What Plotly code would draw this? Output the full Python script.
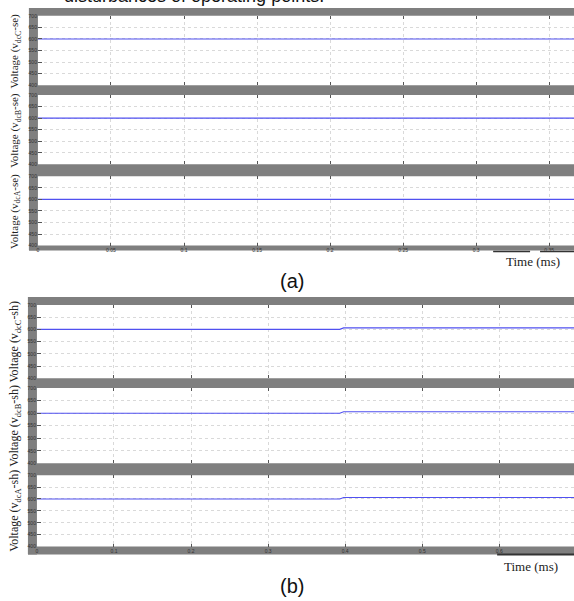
import plotly.graph_objects as go

W, H = 574, 601

# ---- data -----------------------------------------------------------------
# (a) series-side DC link voltages, time in ms
time_se = [0.0, 0.367]
v_dcC_se = [600, 600]
v_dcB_se = [600, 600]
v_dcA_se = [600, 600]

# (b) shunt-side DC link voltages with the small step near t = 0.4
time_sh = [0.0, 0.393, 0.398, 0.697]
v_dcC_sh = [600, 600, 606, 606]
v_dcB_sh = [600, 600, 606, 606]
v_dcA_sh = [600, 600, 606, 606]

y_ticks = [400, 450, 500, 550, 600, 650, 700]
x_ticks_se = [0, 0.05, 0.1, 0.15, 0.2, 0.25, 0.3, 0.35]
x_ticks_sh = [0, 0.1, 0.2, 0.3, 0.4, 0.5, 0.6]

titles_se = ["Voltage (v<sub>dcC</sub>-se)", "Voltage (v<sub>dcB</sub>-se)",
             "Voltage (v<sub>dcA</sub>-se)"]
titles_sh = ["Voltage (v<sub>dcC</sub>-sh)", "Voltage (v<sub>dcB</sub>-sh)",
             "Voltage (v<sub>dcA</sub>-sh)"]

# ---- pixel helpers ----------------------------------------------------------
def px(x):
    return x / W


def py(y):
    return 1 - y / H


GRAY = "#7f7f7f"
LINE = "rgb(80,80,240)"
SERIF = "Liberation Serif, Times New Roman, serif"
SANS = "Liberation Sans, Arial, sans-serif"

# plot boxes (left, right, top, bottom) in pixels
boxes_se = [(37, 574, 13, 83), (37, 574, 93, 163), (37, 574, 175, 245)]
boxes_sh = [(36, 574, 305, 379), (36, 574, 389, 465), (36, 574, 477, 549)]

fig = go.Figure()

panels = [
    (boxes_se, time_se, [v_dcC_se, v_dcB_se, v_dcA_se], x_ticks_se, [0, 0.367], titles_se, 11),
    (boxes_sh, time_sh, [v_dcC_sh, v_dcB_sh, v_dcA_sh], x_ticks_sh, [0, 0.697], titles_sh, 12),
]

layout_axes = {}
annotations = []
idx = 0
for boxes, t, series, xt, xr, titles, tsize in panels:
    for k, ((l, r, tp, bt), vals, ttl) in enumerate(zip(boxes, series, titles)):
        idx += 1
        sfx = "" if idx == 1 else str(idx)
        fig.add_trace(go.Scatter(
            x=t, y=vals, mode="lines",
            line=dict(color=LINE, width=1.1),
            xaxis="x" + sfx, yaxis="y" + sfx, showlegend=False,
        ))
        bottom = (k == len(boxes) - 1)
        layout_axes["xaxis" + sfx] = dict(
            domain=[px(l), px(r)], anchor="y" + sfx, range=xr,
            tickvals=xt, ticktext=[f"{v:g}" for v in xt],
            showticklabels=bottom, ticks="inside", ticklen=3, tickwidth=1,
            tickcolor="#555555", mirror="ticks",
            tickfont=dict(size=5, color="#333333", family=SANS),
            showgrid=True, gridcolor="#d9d9d9", griddash="dot", gridwidth=1,
            zeroline=False, showline=False, fixedrange=True,
        )
        layout_axes["yaxis" + sfx] = dict(
            domain=[py(bt), py(tp)], anchor="x" + sfx, range=[400, 700],
            tickvals=y_ticks, ticks="inside", ticklen=4, tickwidth=1,
            tickcolor="#555555",
            tickfont=dict(size=5, color="#333333", family=SANS),
            showgrid=True, gridcolor="#d9d9d9", griddash="dot", gridwidth=1,
            zeroline=False, showline=False, fixedrange=True,
        )
        annotations.append(dict(
            text=ttl, xref="paper", yref="paper",
            x=px(14), y=py((tp + bt) / 2), textangle=-90,
            xanchor="center", yanchor="middle", showarrow=False,
            font=dict(family=SERIF, size=tsize, color="#222222"),
        ))

# gray frame strips around each stack of plots
shapes = []


def strip(x0, x1, y0, y1):
    shapes.append(dict(type="rect", xref="paper", yref="paper",
                       x0=px(x0), x1=px(x1), y0=py(y1), y1=py(y0),
                       fillcolor=GRAY, line=dict(width=0), layer="below"))


# panel (a)
strip(28, 37, 5, 250)
strip(28, 574, 5, 13)
strip(28, 574, 83, 93)
strip(28, 574, 163, 175)
strip(28, 574, 245, 250)
# panel (b)
strip(27, 36, 297, 557)
strip(27, 574, 297, 305)
strip(27, 574, 379, 389)
strip(27, 574, 465, 477)
strip(27, 574, 549, 557)


def hline(x0, x1, y, w):
    shapes.append(dict(type="line", xref="paper", yref="paper",
                       x0=px(x0), x1=px(x1), y0=py(y), y1=py(y),
                       line=dict(color="#333333", width=w)))


hline(493, 530, 251, 1.5)
hline(540, 574, 251, 1.5)
hline(497, 574, 557, 2)

# axis captions and panel letters
annotations += [
    dict(text="Time (ms)", xref="paper", yref="paper", x=px(533), y=py(261),
         xanchor="center", yanchor="middle", showarrow=False,
         font=dict(family=SERIF, size=13, color="#222222")),
    dict(text="Time (ms)", xref="paper", yref="paper", x=px(531), y=py(569),
         xanchor="center", yanchor="middle", showarrow=False,
         font=dict(family=SERIF, size=13, color="#222222")),
    dict(text="(a)", xref="paper", yref="paper", x=px(292), y=py(281),
         xanchor="center", yanchor="middle", showarrow=False,
         font=dict(family=SANS, size=20, color="#111111")),
    dict(text="(b)", xref="paper", yref="paper", x=px(292), y=py(589),
         xanchor="center", yanchor="middle", showarrow=False,
         font=dict(family=SANS, size=20, color="#111111")),
    dict(text="disturbances of operating points.", xref="paper", yref="paper",
         x=px(326), y=py(-7), xanchor="right", yanchor="middle", showarrow=False,
         font=dict(family=SANS, size=18, color="#111111")),
]

fig.update_layout(
    width=W, height=H, autosize=False,
    margin=dict(l=0, r=0, t=0, b=0),
    paper_bgcolor="white", plot_bgcolor="white",
    shapes=shapes, annotations=annotations,
    **layout_axes,
)

fig.write_html("out.html", config={"displayModeBar": False})
